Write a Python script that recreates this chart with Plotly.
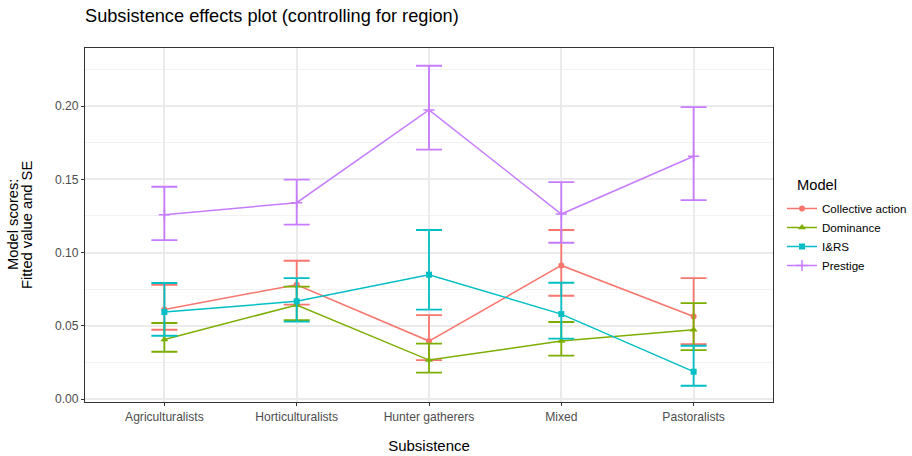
import plotly.graph_objects as go

categories = ["Agriculturalists", "Horticulturalists", "Hunter gatherers", "Mixed", "Pastoralists"]
models = ["Collective action", "Dominance", "I&RS", "Prestige"]

collective_fit = [0.0612, 0.0780, 0.0396, 0.0912, 0.0564]
collective_hi = [0.0780, 0.0944, 0.0573, 0.1154, 0.0826]
collective_lo = [0.0473, 0.0644, 0.0266, 0.0705, 0.0375]

dominance_fit = [0.0407, 0.0642, 0.0266, 0.0396, 0.0473]
dominance_hi = [0.0519, 0.0767, 0.0378, 0.0526, 0.0655]
dominance_lo = [0.0323, 0.0539, 0.0180, 0.0296, 0.0334]

irs_fit = [0.0594, 0.0667, 0.0849, 0.0580, 0.0187]
irs_hi = [0.0792, 0.0826, 0.1154, 0.0794, 0.0364]
irs_lo = [0.0432, 0.0528, 0.0610, 0.0412, 0.0091]

prestige_fit = [0.1258, 0.1340, 0.1973, 0.1263, 0.1657]
prestige_hi = [0.1449, 0.1497, 0.2275, 0.1481, 0.1993]
prestige_lo = [0.1085, 0.1190, 0.1702, 0.1067, 0.1358]

y_ticks = [0.00, 0.05, 0.10, 0.15, 0.20]
y_tick_labels = ["0.00", "0.05", "0.10", "0.15", "0.20"]
y_title_lines = ["Model scores:", "Fitted value and SE"]

colors = ["#F8766D", "#7CAE00", "#00BFC4", "#C77CFF"]
symbols = ["circle", "triangle-up", "square", "cross-thin"]
sizes = [6, 7, 6, 8]

series = [
    (collective_fit, collective_hi, collective_lo),
    (dominance_fit, dominance_hi, dominance_lo),
    (irs_fit, irs_hi, irs_lo),
    (prestige_fit, prestige_hi, prestige_lo),
]

fig = go.Figure()
for name, (fit, hi, lo), col, sym, sz in zip(models, series, colors, symbols, sizes):
    plus = [h - f for h, f in zip(hi, fit)]
    minus = [f - l for f, l in zip(fit, lo)]
    marker = dict(color=col, symbol=sym, size=sz)
    if sym == "cross-thin":
        marker = dict(color=col, symbol=sym, size=sz, line=dict(color=col, width=1.5))
    fig.add_trace(go.Scatter(
        x=categories, y=fit, name=name, mode="lines+markers",
        line=dict(color=col, width=1.5),
        marker=marker,
        error_y=dict(type="data", symmetric=False, array=plus, arrayminus=minus,
                     color=col, thickness=1.8, width=13),
    ))

font_family = "Liberation Sans, Arial, Helvetica, sans-serif"
W, H = 912, 456
L, R, T, B = 85, 773, 48, 402

fig.update_layout(
    width=W, height=H,
    margin=dict(l=0, r=0, t=0, b=0, autoexpand=False),
    paper_bgcolor="white", plot_bgcolor="white",
    font=dict(family=font_family, color="black"),
    title=dict(text="Subsistence effects plot (controlling for region)",
               x=L / W, xref="container", xanchor="left",
               y=1 - 16 / H, yref="container", yanchor="middle",
               font=dict(size=18.2, color="black")),
    legend=dict(x=782 / W, xanchor="left", y=1 - 194 / H, yanchor="top",
                font=dict(size=11.6), tracegroupgap=0, itemwidth=30),
    showlegend=True,
)

fig.add_annotation(text="Model", x=795 / W, y=1 - 185 / H, xref="paper", yref="paper",
                   xanchor="left", yanchor="middle", showarrow=False,
                   font=dict(size=14.7, color="black"))
for i, line in enumerate(y_title_lines):
    fig.add_annotation(text=line, x=(13 + 14 * i) / W, y=1 - 225 / H,
                       xref="paper", yref="paper", xanchor="center", yanchor="middle",
                       textangle=-90, showarrow=False,
                       font=dict(size=14.7, color="black"))

fig.update_xaxes(
    type="category", range=[-0.6, 4.6], domain=[L / W, R / W], automargin=False,
    title=dict(text="Subsistence", font=dict(size=15), standoff=17),
    showgrid=True, gridcolor="#EBEBEB", gridwidth=1.6,
    showline=True, linecolor="#333333", linewidth=1, mirror=True,
    ticks="outside", ticklen=3, tickcolor="#333333",
    tickfont=dict(size=12.1, color="#4D4D4D"),
    zeroline=False,
)
fig.update_yaxes(
    range=[-0.0020, 0.2396], domain=[1 - B / H, 1 - T / H], automargin=False,
    tickvals=y_ticks, ticktext=y_tick_labels,
    showgrid=True, gridcolor="#EBEBEB", gridwidth=1.6,
    minor=dict(showgrid=True, gridcolor="#F2F2F2", gridwidth=0.8, tick0=0.025, dtick=0.05),
    showline=True, linecolor="#333333", linewidth=1, mirror=True,
    ticks="outside", ticklen=3, tickcolor="#333333",
    tickfont=dict(size=12.1, color="#4D4D4D"),
    zeroline=False,
)

fig.write_html("out.html", config={"displayModeBar": False},
               post_script="document.body.style.margin='0';")
